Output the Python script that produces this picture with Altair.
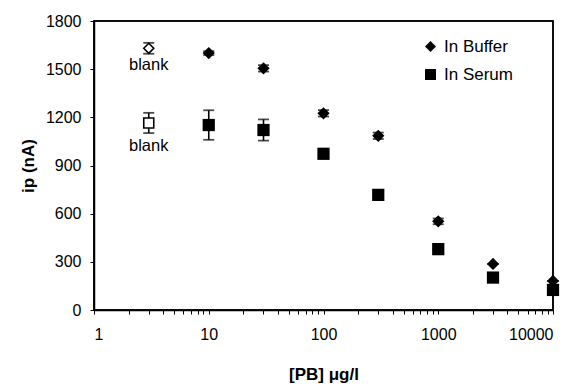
import altair as alt
import pandas as pd

# ---- data ----
series_names = ["In Buffer", "In Serum"]
conc = [10, 30, 100, 300, 1000, 3000, 10000]
buffer_ip = [1600, 1505, 1225, 1085, 552, 287, 181]
buffer_err = [12, 20, 20, 20, 18, 0, 0]
serum_ip = [1152, 1121, 973, 717, 379, 202, 125]
serum_err = [92, 66, 25, 0, 0, 0, 0]

blank_conc = 3
blank_ip = [1630, 1165]
blank_err = [34, 63]
blank_shapes = ["diamond", "square"]

x_domain = [1, 10000]
y_domain = [0, 1800]
x_ticks = [m * 10 ** e for e in range(0, 4) for m in range(1, 10)] + [10000]
x_major = [1, 10, 100, 1000, 10000]
y_ticks = [0, 300, 600, 900, 1200, 1500, 1800]

rows = []
for s, ys, es in [(series_names[0], buffer_ip, buffer_err), (series_names[1], serum_ip, serum_err)]:
    for c, y, e in zip(conc, ys, es):
        rows.append({"series": s, "conc": c, "ip": y, "lo": y - e, "hi": y + e})
df = pd.DataFrame(rows)

brows = []
for s, y, e, sh in zip(series_names, blank_ip, blank_err, blank_shapes):
    brows.append({"series": s, "conc": blank_conc, "ip": y, "lo": y - e, "hi": y + e,
                  "shape": sh, "label": "blank"})
bdf = pd.DataFrame(brows)

frame_df = pd.DataFrame({"x0": [x_domain[0]], "x1": [x_domain[1]],
                         "y0": [y_domain[0]], "y1": [y_domain[1]]})

FONT = "Liberation Sans"

xscale = alt.Scale(type="log", domain=x_domain, nice=False)
yscale = alt.Scale(domain=y_domain, nice=False, zero=True)

x_axis = alt.Axis(
    values=x_ticks, format="d", title="[PB] \u03bcg/l", grid=False,
    labelExpr="indexof(%s, datum.value) >= 0 ? datum.label : ''" % str(x_major),
    labelOverlap=False, labelFontSize=16, labelFont=FONT, labelPadding=12,
    tickSize=4, titleFontSize=17, titleFont=FONT, titleFontWeight="bold",
    titlePadding=24, labelColor="black", titleColor="black",
)
y_axis = alt.Axis(
    values=y_ticks, format="d", title="ip (nA)", grid=False, labelFontSize=16, labelFont=FONT,
    labelPadding=9, tickSize=4, titleFontSize=17, titleFont=FONT,
    titleFontWeight="bold", titlePadding=8, labelColor="black", titleColor="black",
)

X = alt.X("conc:Q", scale=xscale, axis=x_axis)
Y = alt.Y("ip:Q", scale=yscale, axis=y_axis)
Xp = alt.X("conc:Q", scale=xscale)

def errbars(data):
    rule = alt.Chart(data).mark_rule(color="black", strokeWidth=1.6).encode(
        x=Xp, y=alt.Y("lo:Q", scale=yscale), y2="hi:Q")
    cap_lo = alt.Chart(data).mark_tick(color="black", orient="horizontal", size=11, thickness=1.8).encode(
        x=Xp, y=alt.Y("lo:Q", scale=yscale))
    cap_hi = alt.Chart(data).mark_tick(color="black", orient="horizontal", size=11, thickness=1.8).encode(
        x=Xp, y=alt.Y("hi:Q", scale=yscale))
    return [rule, cap_lo, cap_hi]

# plot frame drawn as a rectangle spanning the scale domains
frame = alt.Chart(frame_df).mark_rect(fillOpacity=0, stroke="black", strokeWidth=1.5).encode(
    x=alt.X("x0:Q", scale=xscale), x2="x1:Q",
    y=alt.Y("y0:Q", scale=yscale), y2="y1:Q",
)

points = alt.Chart(df).mark_point(filled=True, color="black", opacity=1, size=150).encode(
    x=X, y=Y,
    shape=alt.Shape("series:N", scale=alt.Scale(domain=series_names, range=["diamond", "square"]),
                    legend=alt.Legend(title=None, orient="none", legendX=328, legendY=17,
                                      labelFont=FONT, labelFontSize=17, labelColor="black",
                                      symbolSize=120, symbolFillColor="black",
                                      symbolStrokeColor="black", rowPadding=10,
                                      labelOffset=5)),
)

blank_pts = alt.Chart(bdf).mark_point(filled=False, fill="white", color="black", opacity=1,
                                      strokeWidth=1.6, size=100).encode(
    x=Xp, y=alt.Y("ip:Q", scale=yscale),
    shape=alt.Shape("shape:N", scale=None),
)

blank_top = alt.Chart(bdf.iloc[[0]]).mark_text(font=FONT, fontSize=16.5, color="black", dy=17).encode(
    x=Xp, y=alt.Y("ip:Q", scale=yscale), text="label:N")
blank_bot = alt.Chart(bdf.iloc[[1]]).mark_text(font=FONT, fontSize=16.5, color="black", dy=23).encode(
    x=Xp, y=alt.Y("ip:Q", scale=yscale), text="label:N")

chart = alt.layer(
    points, *errbars(df), *errbars(bdf), blank_pts, blank_top, blank_bot, frame
).properties(
    width=459, height=289,
    autosize=alt.AutoSizeParams(type="none"),
    padding={"left": 86, "top": 13, "right": 16, "bottom": 74},
).configure(
    background="white"
).configure_view(
    stroke="black", strokeWidth=1.5
).configure_axis(
    grid=False, domainColor="black", domainWidth=1.5, tickColor="black", tickWidth=1
)

chart.save("out.html", embed_options={"renderer": "svg", "actions": False})
